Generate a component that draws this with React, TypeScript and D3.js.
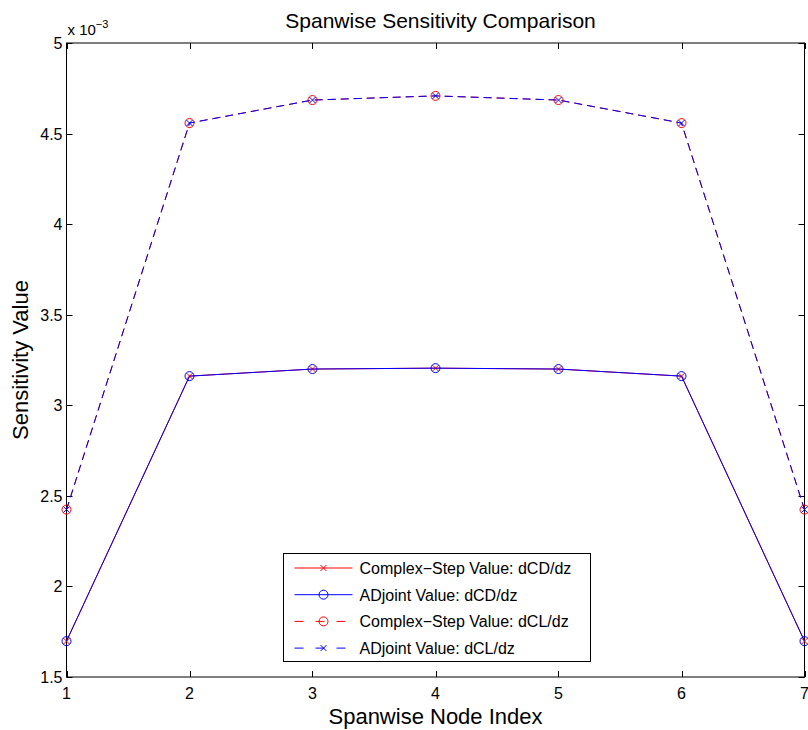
import * as d3 from 'd3'
import { useRef, useEffect } from 'react'

const nodes = [1, 2, 3, 4, 5, 6, 7]
const csDCD = [1.698, 3.161, 3.2, 3.205, 3.2, 3.161, 1.698]
const adjDCD = [1.698, 3.161, 3.2, 3.205, 3.2, 3.161, 1.698]
const csDCL = [2.424, 4.558, 4.685, 4.708, 4.685, 4.558, 2.424]
const adjDCL = [2.424, 4.558, 4.685, 4.708, 4.685, 4.558, 2.424]
const yTicks = [1.5, 2, 2.5, 3, 3.5, 4, 4.5, 5]
const xTicks = [1, 2, 3, 4, 5, 6, 7]

const seriesList = [
  { name: 'Complex\u2212Step Value: dCD/dz', values: csDCD, color: 'red', dash: null, marker: 'x' },
  { name: 'ADjoint Value: dCD/dz', values: adjDCD, color: 'blue', dash: null, marker: 'o' },
  { name: 'Complex\u2212Step Value: dCL/dz', values: csDCL, color: 'red', dash: '8,5', marker: 'o' },
  { name: 'ADjoint Value: dCL/dz', values: adjDCL, color: 'blue', dash: '8,5', marker: 'x' },
]

const App = () => {
  const chartSvg = useRef(null)

  const width = 808
  const height = 730
  const left = 66.5
  const right = 804.5
  const top = 43
  const bottom = 677

  useEffect(() => {
    const svg = d3.select(chartSvg.current)
    svg.selectAll('*').remove() // clear

    const font = '"Liberation Sans", Arial, Helvetica, sans-serif'

    const xScale = d3.scaleLinear().domain([1, 7]).range([left, right])
    const yScale = d3.scaleLinear().domain([1.5, 5]).range([bottom, top])

    svg.append('rect').attr('width', width).attr('height', height).attr('fill', 'white')

    // axis box with inward ticks on all sides
    const axes = svg.append('g').attr('stroke', 'black').attr('stroke-width', 1)
    axes
      .append('rect')
      .attr('x', left)
      .attr('y', top)
      .attr('width', right - left)
      .attr('height', bottom - top)
      .attr('fill', 'none')

    const tl = 6
    xTicks.forEach(t => {
      const x = Math.round(xScale(t)) + 0.5
      axes.append('line').attr('x1', x).attr('x2', x).attr('y1', bottom).attr('y2', bottom - tl)
      axes.append('line').attr('x1', x).attr('x2', x).attr('y1', top).attr('y2', top + tl)
    })
    yTicks.forEach(t => {
      const y = Math.round(yScale(t)) + 0.5
      axes.append('line').attr('x1', left).attr('x2', left + tl).attr('y1', y).attr('y2', y)
      axes.append('line').attr('x1', right).attr('x2', right - tl).attr('y1', y).attr('y2', y)
    })

    // tick labels
    svg
      .append('g')
      .selectAll('text')
      .data(xTicks)
      .enter()
      .append('text')
      .attr('x', d => xScale(d))
      .attr('y', bottom + 22)
      .attr('text-anchor', 'middle')
      .attr('font-family', font)
      .attr('font-size', 16)
      .text(d => d)

    svg
      .append('g')
      .selectAll('text')
      .data(yTicks)
      .enter()
      .append('text')
      .attr('x', left - 4)
      .attr('y', d => yScale(d) + 6)
      .attr('text-anchor', 'end')
      .attr('font-family', font)
      .attr('font-size', 16)
      .text(d => d)

    // exponent
    const expo = svg
      .append('text')
      .attr('x', left + 1)
      .attr('y', top - 8)
      .attr('font-family', font)
      .attr('font-size', 15)
    expo.append('tspan').text('x 10')
    expo.append('tspan').attr('dy', -7).attr('font-size', 11).text('\u22123')

    // title and axis labels
    svg
      .append('text')
      .attr('x', (left + right) / 2 + 5)
      .attr('y', 28)
      .attr('text-anchor', 'middle')
      .attr('font-family', font)
      .attr('font-size', 21)
      .text('Spanwise Sensitivity Comparison')

    svg
      .append('text')
      .attr('x', (left + right) / 2)
      .attr('y', 724)
      .attr('text-anchor', 'middle')
      .attr('font-family', font)
      .attr('font-size', 22)
      .text('Spanwise Node Index')

    svg
      .append('text')
      .attr('transform', `translate(28, ${(top + bottom) / 2}) rotate(-90)`)
      .attr('text-anchor', 'middle')
      .attr('font-family', font)
      .attr('font-size', 22)
      .text('Sensitivity Value')

    const drawMarker = (g, kind, x, y, color) => {
      if (kind === 'o') {
        g.append('circle')
          .attr('cx', x)
          .attr('cy', y)
          .attr('r', 4.5)
          .attr('fill', 'none')
          .attr('stroke', color)
          .attr('stroke-width', 1)
      } else {
        const s = 3
        g.append('path')
          .attr('d', `M${x - s},${y - s}L${x + s},${y + s}M${x - s},${y + s}L${x + s},${y - s}`)
          .attr('stroke', color)
          .attr('stroke-width', 1)
      }
    }

    const line = d3
      .line()
      .x((d, i) => xScale(nodes[i]))
      .y(d => yScale(d))

    // series
    seriesList.forEach(s => {
      const g = svg.append('g')
      g.append('path')
        .attr('d', line(s.values))
        .attr('fill', 'none')
        .attr('stroke', s.color)
        .attr('stroke-width', 1)
        .attr('stroke-dasharray', s.dash)
      s.values.forEach((v, i) => drawMarker(g, s.marker, xScale(nodes[i]), yScale(v), s.color))
    })

    // legend
    const lx = 283.5
    const ly = 553.5
    const lw = 307
    const lh = 108
    const legend = svg.append('g')
    legend
      .append('rect')
      .attr('x', lx)
      .attr('y', ly)
      .attr('width', lw)
      .attr('height', lh)
      .attr('fill', 'white')
      .attr('stroke', 'black')
      .attr('stroke-width', 1)
    seriesList.forEach((s, i) => {
      const y = ly + 14.5 + i * 26.7
      legend
        .append('line')
        .attr('x1', lx + 11)
        .attr('x2', lx + 69)
        .attr('y1', y)
        .attr('y2', y)
        .attr('stroke', s.color)
        .attr('stroke-width', 1)
        .attr('stroke-dasharray', s.dash ? '9,12' : null)
      drawMarker(legend, s.marker, lx + 40, y, s.color)
      legend
        .append('text')
        .attr('x', lx + 76)
        .attr('y', y + 6)
        .attr('font-family', font)
        .attr('font-size', 16)
        .text(s.name)
    })
  }, [])

  return (
    <svg
      ref={chartSvg}
      width={width}
      height={height}
      style={{ position: 'absolute', left: 0, top: 0 }}
    ></svg>
  )
}

export default App
